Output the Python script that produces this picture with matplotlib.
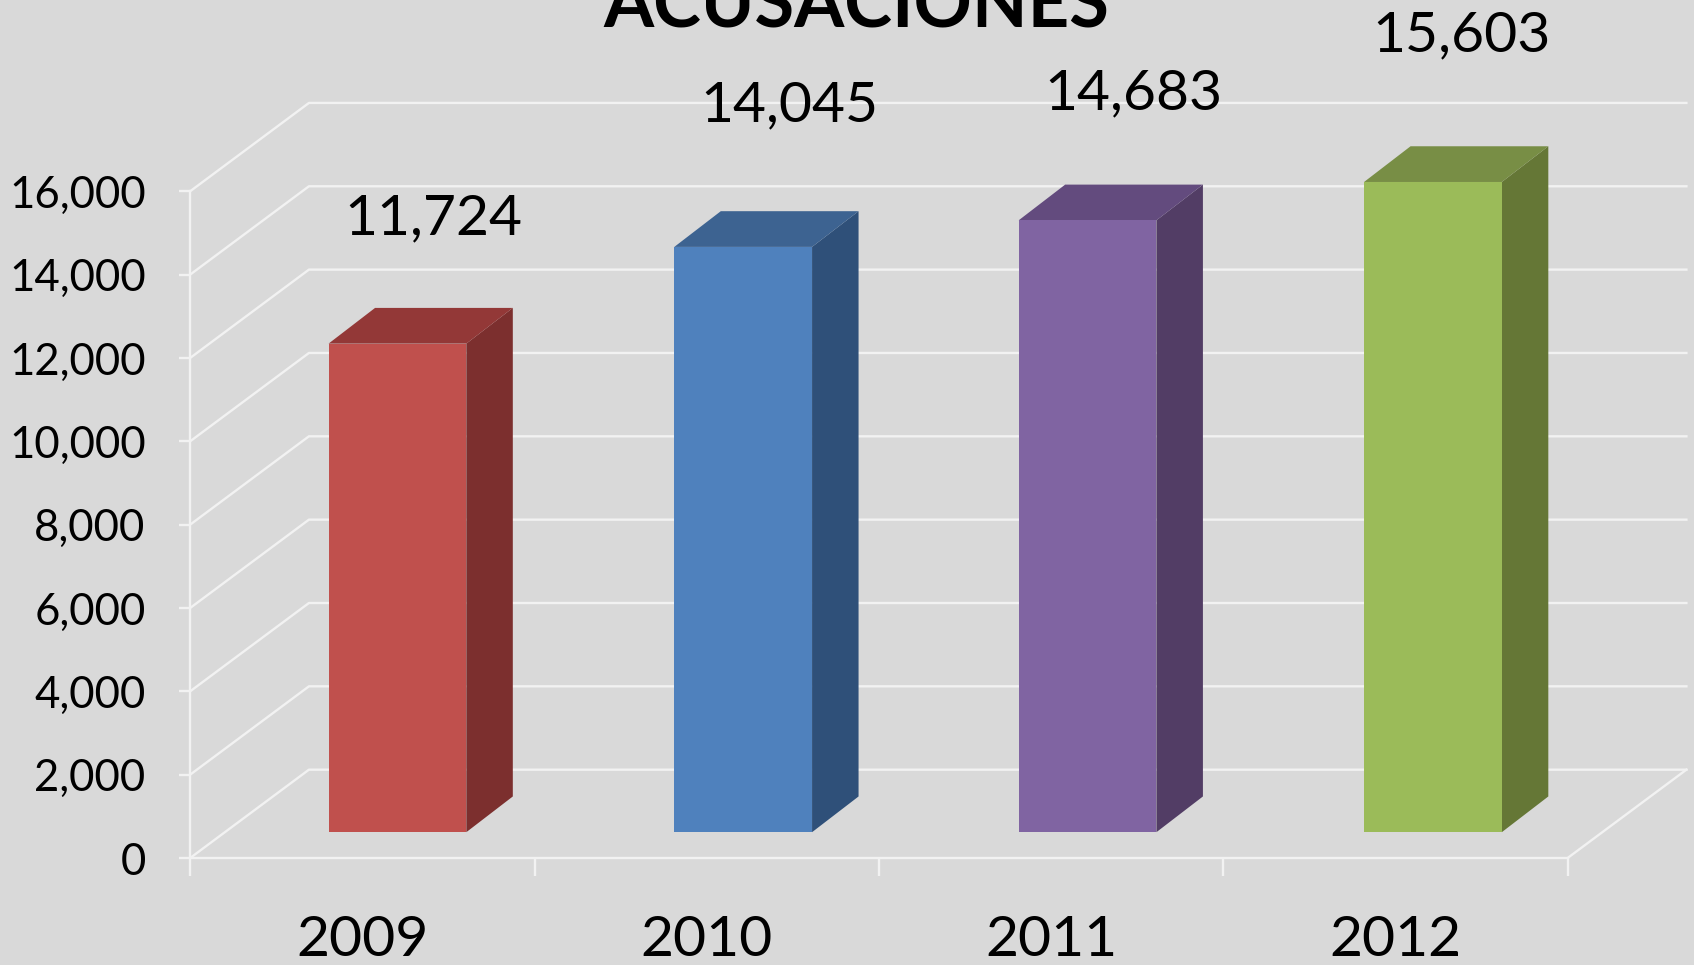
import matplotlib.pyplot as plt
from matplotlib.patches import Polygon
import numpy as np

plt.rcParams['font.family'] = ['Lato', 'DejaVu Sans']

years = ['2009', '2010', '2011', '2012']
values = [11724, 14045, 14683, 15603]
value_labels = ['11,724', '14,045', '14,683', '15,603']
y_ticks = [0, 2000, 4000, 6000, 8000, 10000, 12000, 14000, 16000]

front_colors = ['#C0504D', '#4F81BD', '#8064A2', '#9BBB59']
side_colors = ['#7C2F2E', '#2F5079', '#523D65', '#657736']
top_colors = ['#933837', '#3D6391', '#634B7E', '#788E45']

bg = '#D9D9D9'
W, H = 1568., 893.

fig = plt.figure(figsize=(16.94, 9.65), dpi=100, facecolor=bg)
ax = fig.add_axes([176 / W, 1 - 794 / H, (1451 - 176) / W, (794 - 177) / H])
ax.set_facecolor('none')
ax.set_xlim(0, 4)
ax.set_ylim(0, 16000)

# depth of the fake 3d box, in data units
wall_dx, wall_dy = 0.345, 2120
bar_dx, bar_dy = 0.135, 857
bar_base = 620
bar_width = 0.40
bar_x = [0.602, 1.606, 2.606, 3.609]

for v in y_ticks:
    ax.plot([0, wall_dx, 4 + wall_dx], [v, v + wall_dy, v + wall_dy],
            color='#F2F2F2', lw=1.7, clip_on=False, zorder=1)
ax.plot([4, 4 + wall_dx], [0, wall_dy], color='#F2F2F2', lw=1.7, clip_on=False, zorder=1)

bars = ax.bar(bar_x, values, bar_width, bottom=bar_base, color=front_colors,
              clip_on=False, zorder=4)
for b, v, side, top in zip(bars, values, side_colors, top_colors):
    x0 = b.get_x()
    x1 = x0 + b.get_width()
    y1 = b.get_y() + v
    ax.add_patch(Polygon([(x1, bar_base), (x1 + bar_dx, bar_base + bar_dy),
                          (x1 + bar_dx, y1 + bar_dy), (x1, y1)],
                         facecolor=side, edgecolor='none', clip_on=False, zorder=3))
    ax.add_patch(Polygon([(x0, y1), (x0 + bar_dx, y1 + bar_dy),
                          (x1 + bar_dx, y1 + bar_dy), (x1, y1)],
                         facecolor=top, edgecolor='none', clip_on=False, zorder=3))

# labels float above the bars by slightly different amounts
label_x = [0.707, 1.739, 2.739, 3.693]
label_up = [3005, 3395, 3030, 3500]
for x, v, s, up in zip(label_x, values, value_labels, label_up):
    ax.text(x, bar_base + v + up, s, fontsize=41, ha='center', va='center', clip_on=False)

for s in ['top', 'right']:
    ax.spines[s].set_visible(False)
for s in ['left', 'bottom']:
    ax.spines[s].set_color('#F2F2F2')
    ax.spines[s].set_linewidth(1.7)

ax.set_yticks(y_ticks)
ax.set_yticklabels(['{:,}'.format(v) for v in y_ticks], fontsize=31.5)
ax.tick_params(axis='y', color='#F2F2F2', width=1.7, length=8, pad=24)
for t in ax.get_yticklabels():
    t.set_y(t.get_position()[1])
ax.set_xticks(range(5))
ax.set_xticklabels([])
ax.tick_params(axis='x', color='#F2F2F2', width=1.7, length=13)
ax.set_xticks(np.arange(4) + 0.5, labels=years, minor=True, fontsize=41)
ax.tick_params(axis='x', which='minor', length=0, pad=41)

fig.text(793 / W, 1 - 25 / H, 'ACUSACIONES', fontsize=52, fontweight='bold',
         ha='center', va='baseline')

fig.savefig('out.png', dpi=100, facecolor=bg)
